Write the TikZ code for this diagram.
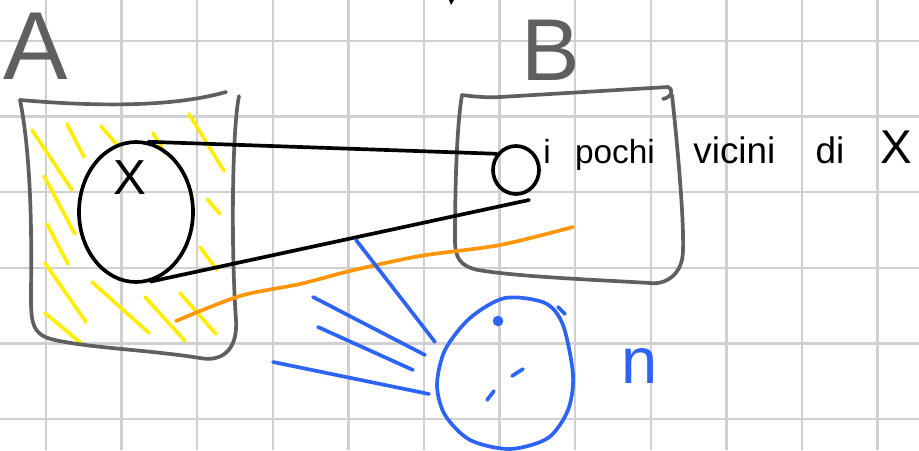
\documentclass[tikz,border=0pt]{standalone}
\usepackage{fontspec}
\setmainfont{Liberation Sans}
\usepackage{tikz}
\usetikzlibrary{shapes.geometric, positioning}
\definecolor{pengray}{RGB}{95,95,95}
\definecolor{gridgray}{RGB}{208,208,208}
\definecolor{hatchyellow}{RGB}{255,238,0}
\definecolor{penorange}{RGB}{255,150,10}
\definecolor{penblue}{RGB}{45,100,245}

\begin{document}
\begin{tikzpicture}[x=0.02cm, y=-0.02cm,
		sketch/.style={draw=pengray, line width=2.1pt, line cap=round, line join=round},
		link/.style={black, line width=2.1pt, line cap=round},
		hatch/.style={hatchyellow, line width=2.1pt, line cap=round},
		bluepen/.style={penblue, line width=2.1pt, line cap=round, line join=round}]
			% Paper
			\fill[white] (0,0) rectangle (919,450);
			\useasboundingbox (0,0) rectangle (919,450);
			\foreach \i in {0,...,11}
				\draw[gridgray, line width=1.3pt] ({46+75.6*\i},0) -- ({46+75.6*\i},450);
			\foreach \j in {0,...,5}
				\draw[gridgray, line width=1.3pt] (0,{41+75.6*\j}) -- (919,{41+75.6*\j});
			\fill (449,0) -- (454,0) -- (451,5) -- cycle;
			
			% Set A
			\foreach \xa/\ya/\xb/\yb in {32/130/72/190, 67/124/84/157, 101/126/118/146, 153/133/165/153,
				189/114/224/171, 44/176/75/234, 47/224/68/264, 45/263/86/322, 45/313/82/344,
				92/282/149/333, 145/297/185/341, 180/293/216/334, 207/199/220/214, 200/247/217/270}
				\draw[hatch] (\xa,\ya) -- (\xb,\yb);
			\draw[sketch] (20,100) .. controls (90,106) and (170,108) .. (226,92);
			\draw[sketch] (239,96) .. controls (232,130) and (231,250) .. (236,320)
				.. controls (238,352) and (220,362) .. (200,358)
				.. controls (150,350) and (90,348) .. (55,340)
				.. controls (30,335) and (31,320) .. (31,290)
				.. controls (32,220) and (30,150) .. (20,100);
			\node[pengray, font=\fontsize{55}{60}\selectfont] (labA) at (36,46) {A};
			\node[ellipse, draw, line width=2.1pt, minimum width=2.28cm, minimum height=2.8cm, inner sep=0pt] (xset) at (136,212) {};
			\node[font=\fontsize{28}{32}\selectfont] (labX) at (130,178) {X};
			
			% Set B
			\draw[sketch] (663,99) .. controls (672,97) and (674,90) .. (668,87) -- (500,97)
				.. controls (485,98) and (470,96) .. (462,95);
			\draw[sketch] (672,95) .. controls (678,150) and (684,220) .. (683,250)
				.. controls (683,275) and (665,285) .. (650,283)
				.. controls (600,280) and (520,277) .. (478,270)
				.. controls (460,266) and (455,258) .. (455,240)
				.. controls (455,200) and (456,130) .. (462,95);
			\node[pengray, font=\fontsize{50}{56}\selectfont] (labB) at (551,50) {B};
			\node[ellipse, draw, line width=2.1pt, minimum width=0.92cm, minimum height=0.96cm, inner sep=0pt] (nb) at (516,170) {};
			\node[anchor=base west, inner xsep=0pt, font=\fontsize{19}{22}\selectfont] (pochi) at (543,163) {i \hspace{0.3cm}pochi};
			\node[anchor=base west, inner xsep=0pt, font=\fontsize{21}{24}\selectfont] (vicini) at (693,163)
				{vicini \hspace{0.6cm}di \hspace{0.52cm}{\fontsize{27}{30}\selectfont X}};
			
			% Links
			\coordinate (tail) at (529,200);
			\draw[link] (xset.80) -- (nb.140);
			\draw[link] (xset.-78) -- (tail);
			\draw[penorange, line width=2.1pt, line cap=round] plot[smooth] coordinates {(176,321) (240,296) (300,284) (350,271) (420,256) (500,245) (573,227)};
			
			% Set n
			\foreach \xa/\ya/\xb/\yb in {356/240/435/342, 313/297/425/355, 318/327/413/370, 273/362/429/394}
				\draw[bluepen] (\xa,\ya) -- (\xb,\yb);
			\draw[bluepen] plot[smooth cycle] coordinates {(505,298) (545,303) (563,325) (573,375) (568,410) (548,438) (510,449) (470,440) (445,415) (437,385) (445,350) (470,318)};
			\draw[bluepen] (558,307) -- (565,314);
			\fill[penblue] (498,321) circle (3pt);
			\draw[bluepen] (512,376) -- (523,369);
			\draw[bluepen] (487,400) -- (494,391);
			\node[penblue, font=\fontsize{37}{40}\selectfont] (labN) at (640,366) {n};
		\end{tikzpicture}
\end{document}
